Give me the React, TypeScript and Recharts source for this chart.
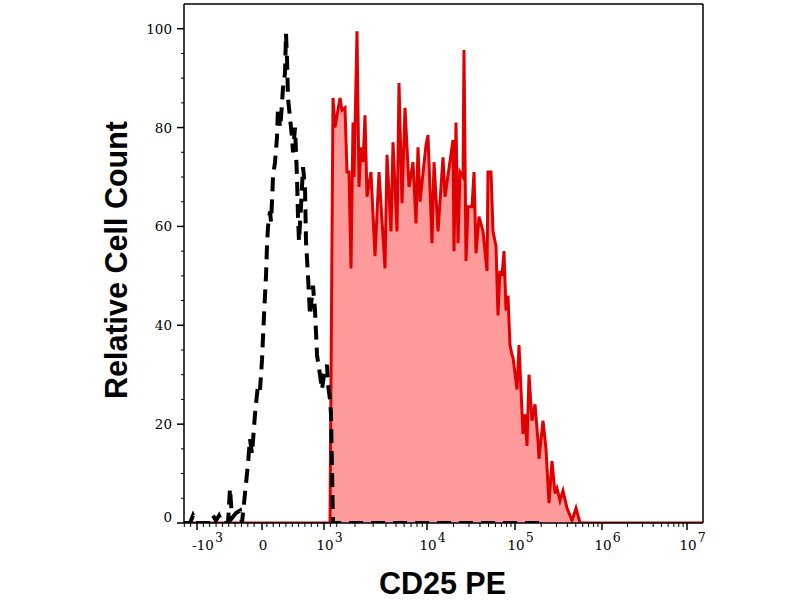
import React from 'react';
import { ComposedChart, Area, Line, XAxis, YAxis, ReferenceLine } from 'recharts';

// display position along the (logicle) x axis, 0..519, and relative cell count
const isoPos = [
  0, 6, 9, 12, 26, 29, 32, 35, 38, 44, 46, 48, 52, 56, 58, 61, 64, 66, 68, 71,
  74, 76, 78, 80, 82, 83, 84, 86, 87, 88, 89, 91, 93, 94, 96, 97, 99, 101, 102, 103,
  104, 106, 108, 109, 111, 113, 114, 115, 117, 119, 121, 122, 124, 126, 128, 129, 131, 133, 136, 138,
  140, 143, 144, 146, 147, 149, 361,
];
const isoCount = [
  0, 0, 1.5, 0, 0, 1.5, 0.5, 1.5, 0, 0, 7, 1, 2, 2.5, 0, 6, 12, 17, 14, 22,
  28, 27, 33, 42, 50, 56, 60, 63, 61, 65, 70, 73, 78, 84, 80, 82, 88, 91, 99, 94,
  86, 82, 78, 75, 80, 70, 62, 57, 64, 72, 68, 57, 50, 42, 46, 48, 43, 34, 30, 27,
  30, 32, 28, 25, 22, 0, 0,
];

const cd25Pos = [
  0, 146, 149, 151, 156, 158, 161, 163, 165, 167, 169, 170, 173, 175, 177, 179, 181, 183, 187, 191,
  195, 201, 203, 207, 209, 213, 215, 218, 221, 225, 229, 232, 234, 236, 242, 244, 248, 250, 254, 259,
  261, 269, 270, 272, 274, 276, 279, 280, 282, 284, 288, 290, 292, 295, 299, 303, 304, 307, 309, 312,
  314, 316, 318, 320, 322, 324, 326, 328, 329, 333, 335, 339, 341, 343, 345, 348, 351, 354, 355, 359,
  362, 365, 368, 371, 373, 376, 379, 383, 388, 392, 396, 519,
];
const cd25Count = [
  0, 0, 86, 80, 86, 83.5, 84, 71, 71, 51.5, 81, 70, 99.5, 68, 76, 73, 82.5, 66, 71, 54,
  71, 51.5, 74.5, 59, 77, 59, 89, 64.7, 84, 68, 73, 60.6, 76, 65, 76.5, 78.5, 56.6, 73, 59, 74,
  66, 77.5, 55, 81, 56.6, 71, 70, 95.7, 53, 64, 64, 71, 54.6, 62, 59, 51, 71, 71, 59, 56,
  42, 51, 50, 55, 43, 46, 36, 34, 33.5, 27, 36, 18, 22, 15.6, 30, 20.7, 24, 16.6, 13, 20.7,
  15, 4, 12.5, 6, 7, 4.5, 6.5, 3, 0.5, 3, 0, 0,
];

// x axis decades: -10^3, 0, 10^3 ... 10^7
const xMajorPos = [13, 78, 140, 243, 331, 418, 503];
const xMajorBase = ['-10', '0', '10', '10', '10', '10', '10'];
const xMajorExp = ['3', '', '3', '4', '5', '6', '7'];

const yMajor = [0, 20, 40, 60, 80, 100];

const isoData = isoPos.map((p, i) => ({ pos: p, count: isoCount[i] }));
const cd25Data = cd25Pos.map((p, i) => ({ pos: p, count: cd25Count[i] }));

// minor ticks: linear steps of 100 around zero, log steps inside each decade
const xMinor: number[] = [];
const linStep = (xMajorPos[2] - xMajorPos[0]) / 20;
for (let k = -2; k <= 22; k++) {
  const p = xMajorPos[0] + k * linStep;
  if (p >= 0 && k % 10 !== 0) xMinor.push(+p.toFixed(2));
}
for (let d = 2; d < xMajorPos.length - 1; d++) {
  for (let m = 2; m <= 9; m++) {
    xMinor.push(+(xMajorPos[d] + Math.log10(m) * (xMajorPos[d + 1] - xMajorPos[d])).toFixed(2));
  }
}
const xTicks = [...xMajorPos, ...xMinor].sort((a, b) => a - b);
const yTicks: number[] = [];
for (let v = 0; v <= 100; v += 5) yTicks.push(v);

const tickFont = '"DejaVu Serif", serif';
const titleFont = '"Liberation Sans", Arial, sans-serif';

function XTick(props: any) {
  const { x, y, payload } = props;
  const i = xMajorPos.indexOf(payload.value);
  if (i < 0) {
    return <line x1={x} x2={x} y1={y} y2={y + 4} stroke="#000" strokeWidth={1} />;
  }
  const base = xMajorBase[i];
  const exp = xMajorExp[i];
  const dx = base === '-10' ? 6 : 1;
  const baseW = base === '-10' ? 21 : base.length * 8.2;
  return (
    <g>
      <line x1={x} x2={x} y1={y} y2={y + 7} stroke="#000" strokeWidth={1.5} />
      <text x={x + dx} y={y + 27} textAnchor="middle" fontFamily={tickFont} fontSize={13.5} fill="#000">
        {base}
      </text>
      {exp && (
        <text x={x + dx + baseW / 2 + 1.5} y={y + 19} fontFamily={tickFont} fontSize={12.5} fill="#000">
          {exp}
        </text>
      )}
    </g>
  );
}

function YTick(props: any) {
  const { x, y, payload } = props;
  const v = payload.value;
  if (!yMajor.includes(v)) {
    return <line x1={x - 3} x2={x} y1={y} y2={y} stroke="#000" strokeWidth={1} />;
  }
  return (
    <g>
      <line x1={x - 7} x2={x} y1={y} y2={y} stroke="#000" strokeWidth={1.5} />
      <text x={x - 12} y={v === 0 ? y - 1 : y + 5} textAnchor="end" fontFamily={tickFont} fontSize={13.5} fill="#000">
        {v}
      </text>
    </g>
  );
}

export default function App() {
  return (
    <div style={{ position: 'absolute', left: 0, top: 0, width: 800, height: 600, background: '#fff' }}>
      <ComposedChart width={800} height={600} margin={{ top: 4, right: 97, bottom: 37, left: 124 }}>
        <XAxis
          type="number"
          dataKey="pos"
          domain={[0, 519]}
          ticks={xTicks}
          interval={0}
          tick={<XTick />}
          tickLine={false}
          tickSize={0}
          tickMargin={0}
          height={40}
          axisLine={{ stroke: '#000', strokeWidth: 1.5 }}
          allowDataOverflow
        />
        <YAxis
          type="number"
          domain={[0, 105]}
          ticks={yTicks}
          interval={0}
          tick={<YTick />}
          tickLine={false}
          tickSize={0}
          tickMargin={0}
          width={60}
          axisLine={{ stroke: '#000', strokeWidth: 1.5 }}
          allowDataOverflow
        />
        <Area
          data={cd25Data}
          dataKey="count"
          type="linear"
          stroke="#e00000"
          strokeWidth={3}
          fill="#ff9a9a"
          fillOpacity={1}
          isAnimationActive={false}
        />
        <Line
          data={isoData}
          dataKey="count"
          type="linear"
          stroke="#000"
          strokeWidth={4}
          strokeDasharray="14 8"
          dot={false}
          isAnimationActive={false}
        />
        <ReferenceLine y={105} stroke="#000" strokeWidth={1.5} />
        <ReferenceLine x={519} stroke="#000" strokeWidth={1.5} />
      </ComposedChart>
      <svg width={800} height={600} style={{ position: 'absolute', left: 0, top: 0, pointerEvents: 'none' }}>
        <text x={442.5} y={594} textAnchor="middle" fontFamily={titleFont} fontWeight="bold" fontSize={30.5} fill="#000">
          CD25 PE
        </text>
        <text
          transform="translate(127,260) rotate(-90)"
          textAnchor="middle"
          fontFamily={titleFont}
          fontWeight="bold"
          fontSize={30.5}
          fill="#000"
        >
          Relative Cell Count
        </text>
      </svg>
    </div>
  );
}
